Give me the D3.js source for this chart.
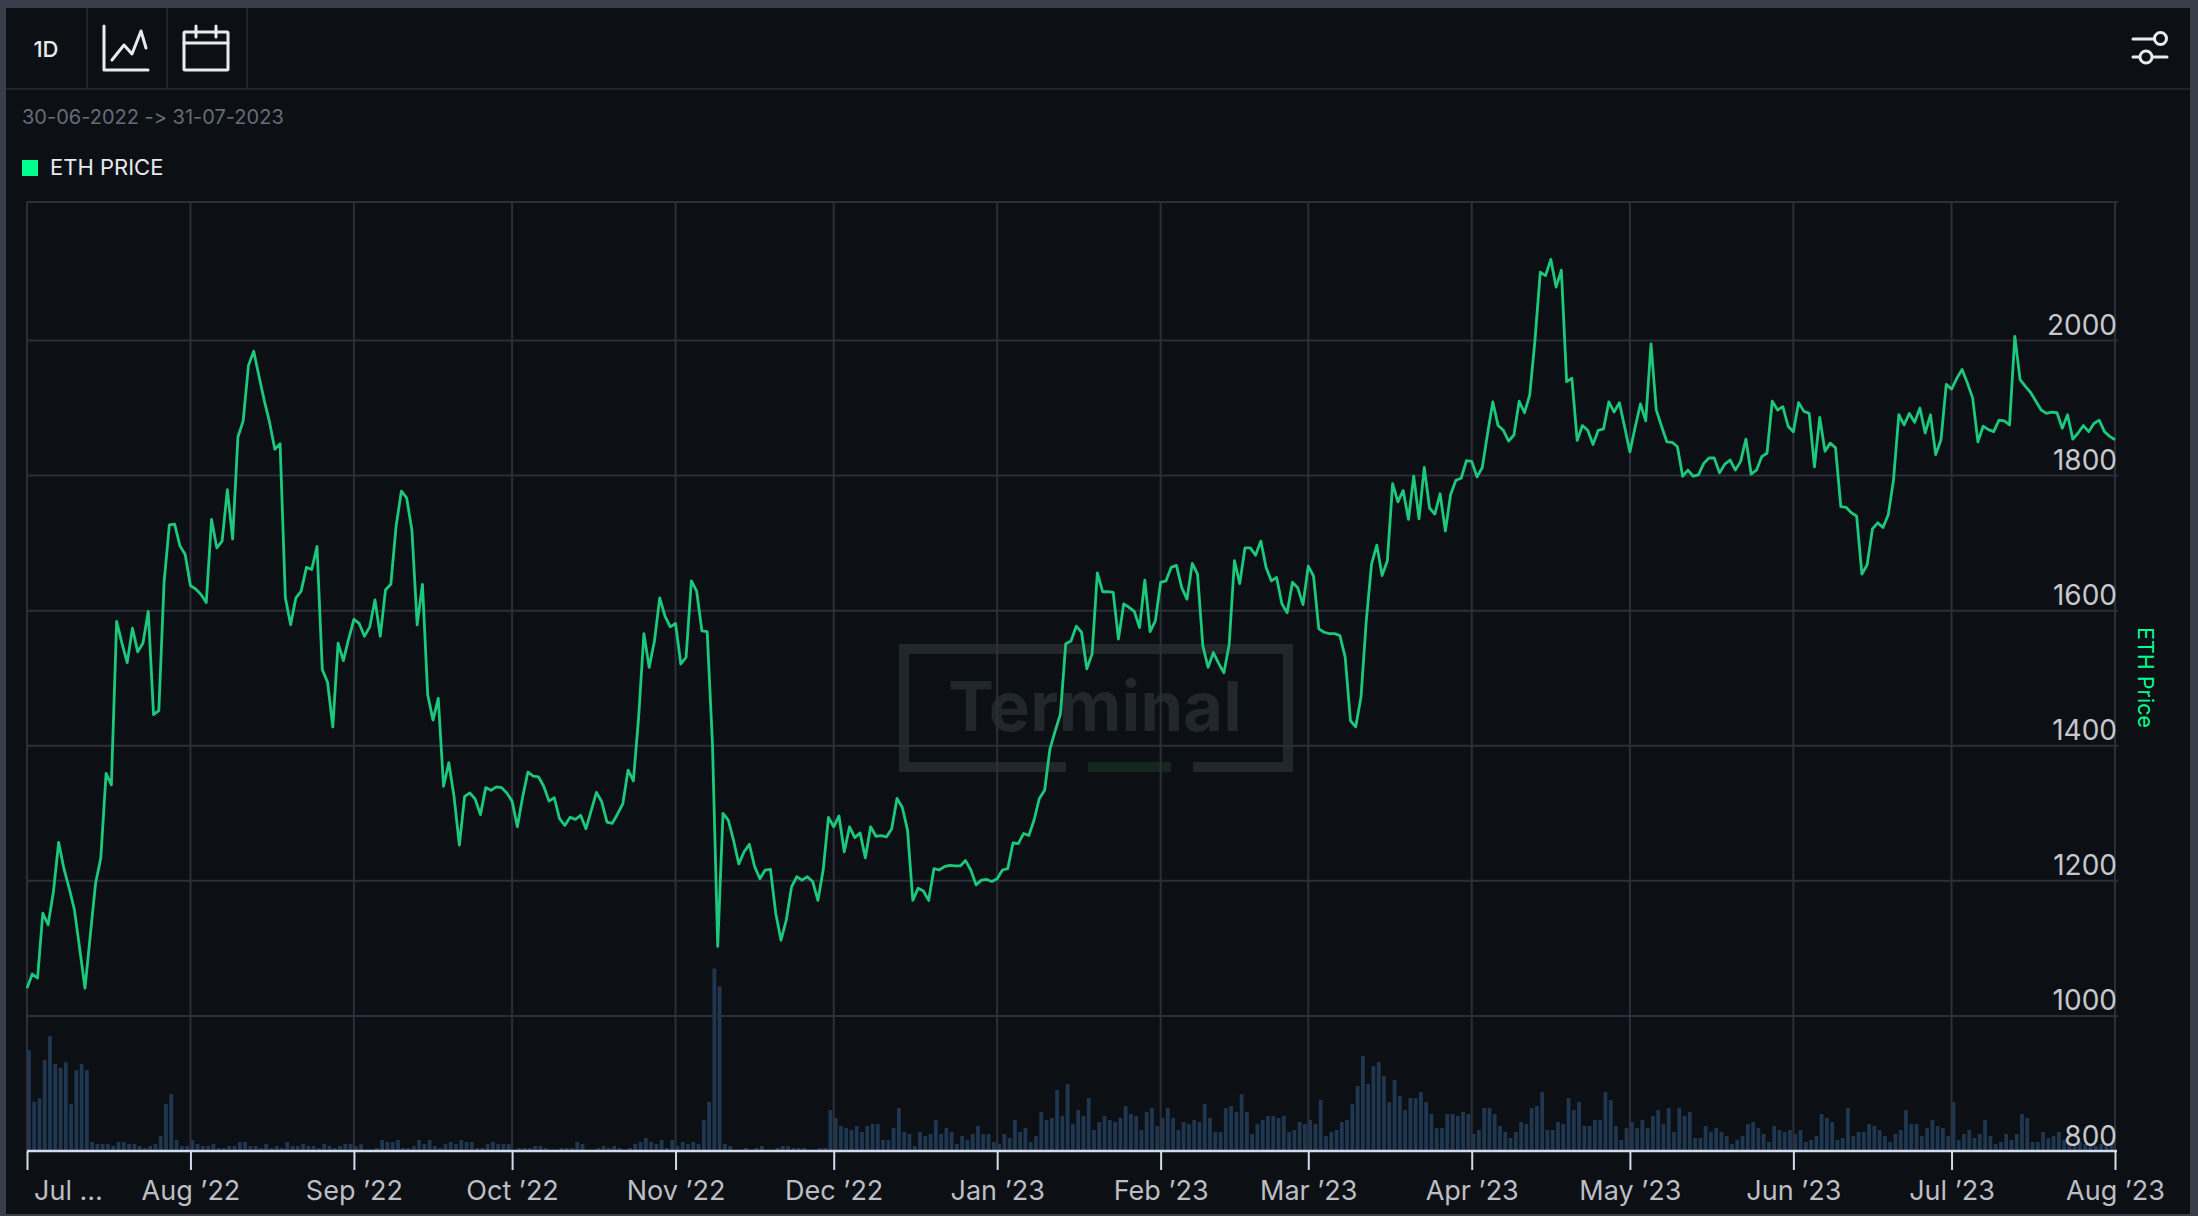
<!DOCTYPE html>
<html lang="en">
<head>
<meta charset="utf-8">
<title>ETH Price</title>
<script src="https://cdn.jsdelivr.net/npm/d3@7"></script>
<style>
  html, body { margin: 0; padding: 0; background: #3a3d4a; }
  svg { display: block; font-family: "Inter", "Liberation Sans", sans-serif; font-variant-ligatures: none; font-feature-settings: "calt" 0, "liga" 0; }
</style>
</head>
<body>
<svg id="chart" width="2198" height="1216"></svg>
<script>
// Daily ETH close in USD, starting 1 July 2022
const prices = [
  1041,1062,1056,1152,1135,1183,1257,1218,1189,1157,1099,1041,1119,1196,1234,1359,1342,1584,1552,1523,
  1574,1539,1552,1599,1446,1452,1642,1727,1728,1696,1683,1637,1632,1624,1612,1735,1693,1703,1779,1706,
  1857,1881,1963,1984,1947,1911,1879,1839,1847,1619,1579,1619,1629,1664,1661,1695,1513,1494,1428,1552,
  1526,1558,1587,1581,1562,1576,1616,1562,1631,1639,1725,1777,1767,1719,1579,1639,1475,1438,1470,1340,
  1375,1324,1253,1325,1330,1321,1298,1338,1334,1339,1338,1330,1318,1280,1324,1361,1355,1354,1340,1318,
  1323,1292,1282,1294,1291,1297,1277,1304,1331,1317,1287,1285,1299,1314,1364,1348,1442,1566,1516,1555,
  1619,1592,1576,1581,1521,1531,1644,1629,1570,1569,1403,1103,1300,1290,1260,1225,1243,1254,1221,1203,
  1216,1217,1152,1112,1142,1191,1206,1201,1206,1199,1171,1216,1294,1280,1296,1243,1280,1264,1271,1234,
  1280,1266,1267,1265,1277,1322,1309,1275,1171,1189,1185,1171,1218,1216,1221,1223,1222,1222,1230,1216,
  1194,1201,1202,1199,1203,1216,1218,1256,1255,1270,1267,1290,1322,1334,1395,1422,1447,1551,1555,1577,
  1568,1514,1536,1656,1628,1628,1627,1558,1610,1605,1599,1575,1645,1569,1585,1642,1644,1664,1667,1634,
  1617,1670,1654,1548,1516,1538,1522,1508,1550,1674,1640,1693,1693,1682,1703,1664,1644,1649,1610,1597,
  1642,1634,1609,1666,1651,1573,1568,1566,1566,1563,1531,1437,1428,1472,1585,1669,1697,1652,1674,1788,
  1761,1778,1735,1799,1736,1812,1752,1743,1773,1718,1772,1793,1796,1822,1821,1798,1812,1862,1909,1874,
  1867,1851,1860,1910,1893,1919,2001,2101,2096,2120,2079,2104,1939,1944,1852,1874,1867,1846,1867,1869,
  1909,1894,1908,1872,1835,1872,1906,1881,1995,1897,1873,1850,1849,1843,1799,1808,1799,1801,1818,1826,
  1826,1804,1817,1823,1808,1821,1854,1802,1808,1828,1833,1910,1897,1902,1873,1865,1908,1895,1892,1813,
  1886,1836,1848,1841,1754,1753,1745,1740,1654,1668,1721,1730,1723,1742,1794,1890,1875,1892,1879,1900,
  1863,1890,1831,1853,1935,1928,1944,1957,1937,1915,1850,1873,1868,1865,1882,1881,1875,2006,1942,1932,
  1923,1910,1897,1892,1894,1893,1870,1890,1854,1863,1874,1865,1877,1882,1865,1858,1853
];

// Daily traded volume for the same days, in indexed units
const volumes = [
  300,145,155,270,342,258,247,263,138,240,258,240,24,18,18,18,12,24,24,18,
  18,12,6,12,18,42,138,168,30,12,12,30,18,12,12,18,6,6,12,12,
  24,24,12,12,6,18,6,12,6,24,12,12,18,12,12,6,18,12,6,12,
  18,18,12,18,0,0,6,30,24,24,30,6,6,12,30,18,30,12,6,18,
  24,18,30,24,24,6,6,18,24,18,18,18,0,6,6,6,12,12,6,0,
  0,6,6,6,24,18,0,0,6,12,6,12,6,0,6,18,24,36,24,18,
  30,6,30,12,24,18,24,18,90,145,545,492,18,12,0,0,6,0,6,12,
  0,0,6,12,12,6,6,6,0,0,6,6,120,96,72,66,60,72,54,72,
  78,78,30,30,66,126,54,48,12,54,42,48,90,48,66,54,18,42,30,48,
  72,48,48,24,18,48,36,90,54,66,24,42,114,90,96,180,102,198,78,120,
  102,156,60,84,102,90,84,96,132,108,102,60,114,126,72,96,126,96,60,84,
  78,90,84,138,96,54,54,126,132,114,168,114,48,78,90,102,102,96,102,54,
  60,84,78,90,78,150,42,54,60,84,90,138,192,282,198,252,264,222,144,210,
  162,120,156,156,174,144,108,66,66,108,108,102,114,108,48,60,126,126,108,72,
  54,36,54,84,78,126,132,174,60,60,84,78,156,120,144,72,72,90,90,174,
  150,72,30,66,84,66,90,66,102,120,78,126,54,126,102,114,36,36,72,54,
  66,54,42,18,30,42,78,84,66,48,24,72,60,54,60,48,60,24,30,42,
  108,96,84,30,36,126,42,54,54,78,72,60,42,24,48,60,120,78,78,42,
  66,90,72,66,42,144,30,48,60,36,48,90,42,18,24,48,30,48,108,96,
  24,24,54,36,42,54,30,24,18,24,18,18,12,18,12,18
];

const monthTicks = ["2022-07-01","2022-08-01","2022-09-01","2022-10-01","2022-11-01","2022-12-01","2023-01-01",
                    "2023-02-01","2023-03-01","2023-04-01","2023-05-01","2023-06-01","2023-07-01","2023-08-01"];
const monthLabels = ["Jul …","Aug ’22","Sep ’22","Oct ’22","Nov ’22","Dec ’22","Jan ’23",
                     "Feb ’23","Mar ’23","Apr ’23","May ’23","Jun ’23","Jul ’23","Aug ’23"];
const priceTicks = [800,1000,1200,1400,1600,1800,2000];

const firstDay = new Date(Date.UTC(2022, 6, 1));
const days = prices.map((_, i) => d3.utcDay.offset(firstDay, i));
const tickDates = monthTicks.map(s => new Date(s + "T00:00:00Z"));

const plot = { left: 27, right: 2115, top: 202, bottom: 1151 };
const colors = {
  frame: "#3a3d4a", panel: "#0c0f14", rule: "#20242c", grid: "#2c2f3a",
  line: "#1cc97c", bar: "#1f3750", accent: "#00ff8f", axis: "#d3daea",
  tick: "#bcbec3", icon: "#e9ebee", muted: "#666c78"
};

const x = d3.scaleUtc().domain([tickDates[0], tickDates[tickDates.length - 1]]).range([plot.left, plot.right]);
const y = d3.scaleLinear().domain([800, 2205]).range([plot.bottom, plot.top]);
const vol = d3.scaleLinear().domain([0, 2847]).range([plot.bottom - 1, plot.top]);

const svg = d3.select("#chart");

// Panel and toolbar
svg.append("rect").attr("width", 2198).attr("height", 1216).attr("fill", colors.frame);
svg.append("rect").attr("x", 6).attr("y", 8).attr("width", 2184).attr("height", 1206).attr("fill", colors.panel);

const toolbar = svg.append("g").attr("stroke", colors.rule).attr("stroke-width", 2);
toolbar.append("line").attr("x1", 6).attr("x2", 2190).attr("y1", 89).attr("y2", 89);
[87, 167, 247].forEach(px => toolbar.append("line").attr("x1", px).attr("x2", px).attr("y1", 8).attr("y2", 89));

svg.append("text").attr("x", 46).attr("y", 57).attr("text-anchor", "middle")
  .attr("font-size", 22).attr("font-weight", 500).attr("fill", colors.icon).text("1D");

const icons = svg.append("g").attr("fill", "none").attr("stroke", colors.icon)
  .attr("stroke-width", 3).attr("stroke-linecap", "round").attr("stroke-linejoin", "round");
icons.append("path").attr("d", "M104 26V70H148");
icons.append("path").attr("d", "M112 60L124 45L132 54L141 31L146 48");
icons.append("rect").attr("x", 184).attr("y", 32).attr("width", 44).attr("height", 38).attr("rx", 1);
icons.append("path").attr("d", "M184 43H228M196 26V37M216 26V37");
icons.append("path").attr("d", "M2133 39H2154M2133 57H2139M2153 57H2167");
icons.append("circle").attr("cx", 2160.5).attr("cy", 38.5).attr("r", 6);
icons.append("circle").attr("cx", 2146).attr("cy", 57).attr("r", 6);

// Date range and legend
svg.append("text").attr("x", 22).attr("y", 124).attr("font-size", 20).attr("fill", colors.muted)
  .text("30-06-2022 -> 31-07-2023");
svg.append("rect").attr("x", 22).attr("y", 160).attr("width", 16).attr("height", 16).attr("fill", colors.accent);
svg.append("text").attr("x", 50).attr("y", 175).attr("font-size", 22).attr("fill", "#e8eaee").text("ETH PRICE");

// Faint wordmark behind the data
const mark = svg.append("g");
const markStroke = "#22272b";
mark.append("path").attr("fill", "none").attr("stroke", markStroke).attr("stroke-width", 10)
  .attr("d", "M1066 767H904V649H1288V767H1193");
mark.append("line").attr("x1", 1088).attr("x2", 1171).attr("y1", 767).attr("y2", 767)
  .attr("stroke", "#14261f").attr("stroke-width", 10);
mark.append("text").attr("x", 1095).attr("y", 731).attr("text-anchor", "middle")
  .attr("font-size", 69).attr("font-weight", 700).attr("fill", markStroke).text("Terminal");

// Volume bars along the bottom of the plot
const barWidth = (x(days[1]) - x(days[0])) * 0.72;
svg.append("g").attr("fill", colors.bar)
  .selectAll("rect").data(volumes).join("rect")
  .attr("x", (_, i) => x(days[i]))
  .attr("y", d => vol(d))
  .attr("width", barWidth)
  .attr("height", d => vol(0) - vol(d));

// Grid
const gridH = svg.append("g").attr("stroke", colors.grid).attr("stroke-width", 2);
gridH.selectAll("line").data(priceTicks.slice(1)).join("line")
  .attr("x1", plot.left).attr("x2", plot.right + 3)
  .attr("y1", d => y(d)).attr("y2", d => y(d));
gridH.append("line").attr("x1", plot.left).attr("x2", plot.right + 3).attr("y1", plot.top).attr("y2", plot.top);
const gridV = svg.append("g").attr("stroke", colors.grid).attr("stroke-width", 2);
gridV.selectAll("line").data(tickDates).join("line")
  .attr("x1", d => x(d)).attr("x2", d => x(d))
  .attr("y1", plot.top).attr("y2", plot.bottom);

// Price line
const priceLine = d3.line().x((_, i) => x(days[i])).y(d => y(d)).curve(d3.curveLinear);
svg.append("path").datum(prices)
  .attr("fill", "none").attr("stroke", colors.line).attr("stroke-width", 2.8)
  .attr("stroke-linejoin", "round").attr("d", priceLine);

// Time axis
const xAxis = svg.append("g").attr("transform", `translate(0,${plot.bottom})`)
  .call(d3.axisBottom(x).tickValues(tickDates).tickSize(19).tickPadding(11)
    .tickFormat((_, i) => monthLabels[i]));
xAxis.select(".domain").attr("stroke", colors.axis).attr("stroke-width", 2.4)
  .attr("d", `M${plot.left},0H${plot.right + 2}`);
xAxis.selectAll(".tick line").attr("stroke", colors.axis).attr("stroke-width", 2);
xAxis.selectAll(".tick text").attr("font-size", 27).attr("font-family", "Inter, sans-serif")
  .attr("fill", colors.tick).attr("dy", "0.71em");
xAxis.select(".tick:first-of-type text").attr("x", 41);

// Price axis, labels sitting just above their gridlines
const yAxis = svg.append("g").attr("transform", `translate(${plot.right + 2},0)`)
  .call(d3.axisLeft(y).tickValues(priceTicks).tickSize(0).tickPadding(0).tickFormat(d3.format("d")));
yAxis.select(".domain").remove();
yAxis.selectAll(".tick text").attr("font-size", 28).attr("font-family", "Inter, sans-serif")
  .attr("fill", "#c6c8cd").attr("dy", -6);

svg.append("text").attr("transform", `translate(2138,${(plot.top + plot.bottom) / 2 + 1}) rotate(90)`)
  .attr("text-anchor", "middle").attr("font-size", 21.5).attr("fill", colors.accent).text("ETH Price");
</script>
</body>
</html>
